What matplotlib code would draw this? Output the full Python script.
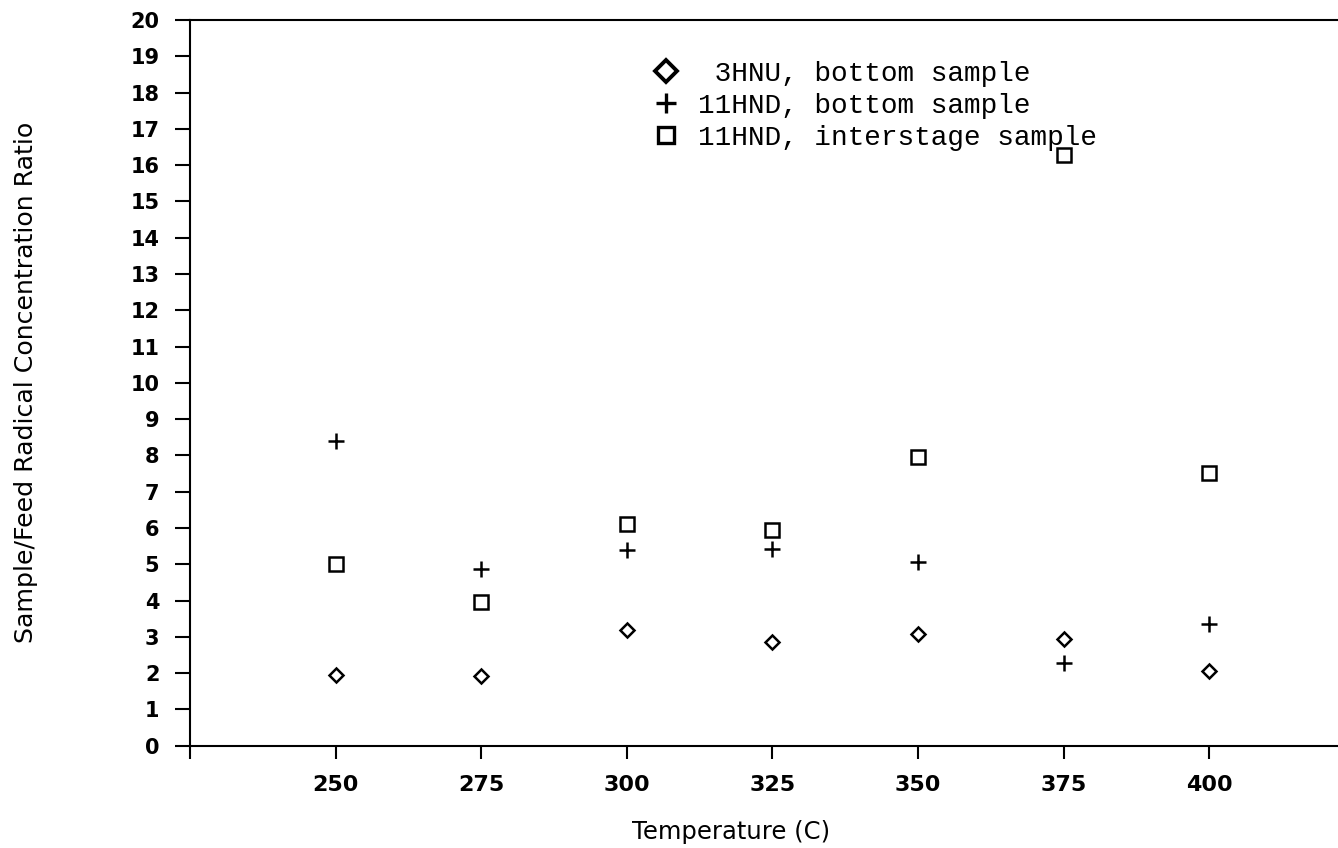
import matplotlib
matplotlib.use("Agg")
from matplotlib import pyplot as plt
from matplotlib.lines import Line2D

# temperatures (C)
temps = [250, 275, 300, 325, 350, 375, 400]

# sample/feed radical concentration ratio
hnu3_bottom = [1.95, 1.93, 3.2, 2.85, 3.07, 2.93, 2.06]
hnd11_bottom = [8.41, 4.87, 5.39, 5.42, 5.07, 2.27, 3.35]
hnd11_inter = [5.0, 3.96, 6.1, 5.94, 7.96, 16.27, 7.51]

labels = [" 3HNU, bottom sample", "11HND, bottom sample", "11HND, interstage sample"]

xticks = [225, 250, 275, 300, 325, 350, 375, 400]
xticklabels = ["", "250", "275", "300", "325", "350", "375", "400"]
yticks = list(range(0, 21))

fig = plt.figure(figsize=(13.38, 8.48), dpi=100)
ax = fig.add_axes([190 / 1338, 102.3 / 848, 1148 / 1338, 725.7 / 848])

ax.plot(temps, hnu3_bottom, linestyle="none", marker="D", ms=7,
        mfc="white", mec="black", mew=1.8)
ax.plot(temps, hnd11_bottom, linestyle="none", marker="+", ms=11.5,
        mec="black", mew=1.8)
ax.plot(temps, hnd11_inter, linestyle="none", marker="s", ms=9.5,
        mfc="white", mec="black", mew=1.8)

ax.set_xlim(225, 225 + 1148 / 145.6 * 25)
ax.set_ylim(0, 20)
ax.set_xticks(xticks)
ax.set_xticklabels(xticklabels)
ax.set_yticks(yticks)

ax.spines["right"].set_visible(False)
for s in ["left", "top", "bottom"]:
    ax.spines[s].set_linewidth(1.5)
ax.tick_params(axis="y", direction="out", length=11, width=1.5, pad=11,
               labelsize=15)
ax.tick_params(axis="x", direction="out", length=9, width=1.5, pad=12,
               labelsize=16)
for t in ax.get_xticklabels() + ax.get_yticklabels():
    t.set_fontweight("bold")

ax.set_xlabel("Temperature (C)", fontsize=17.5)
ax.set_ylabel("Sample/Feed Radical Concentration Ratio", fontsize=18.2)
ax.xaxis.set_label_coords((731 - 190) / 1148, -(832 - 745.7) / 725.7)
ax.yaxis.set_label_coords(-(190 - 26) / 1148, (745.7 - 382) / 725.7)
ax.xaxis.label.set_va("center")
ax.yaxis.label.set_va("center")

handles = [
    Line2D([], [], linestyle="none", marker="D", ms=11, mfc="white",
           mec="black", mew=2.8),
    Line2D([], [], linestyle="none", marker="+", ms=15, mec="black", mew=2.4),
    Line2D([], [], linestyle="none", marker="s", ms=11, mfc="white",
           mec="black", mew=2.4),
]
ax.legend(handles, labels, loc="upper left",
          bbox_to_anchor=((652 - 190) / 1148, (745.7 - 61) / 725.7),
          frameon=False, borderpad=0, borderaxespad=0, handlelength=1.0,
          handletextpad=0.65, labelspacing=0.22,
          prop={"family": "Liberation Mono", "size": 20})

fig.savefig("out.png", dpi=100)
